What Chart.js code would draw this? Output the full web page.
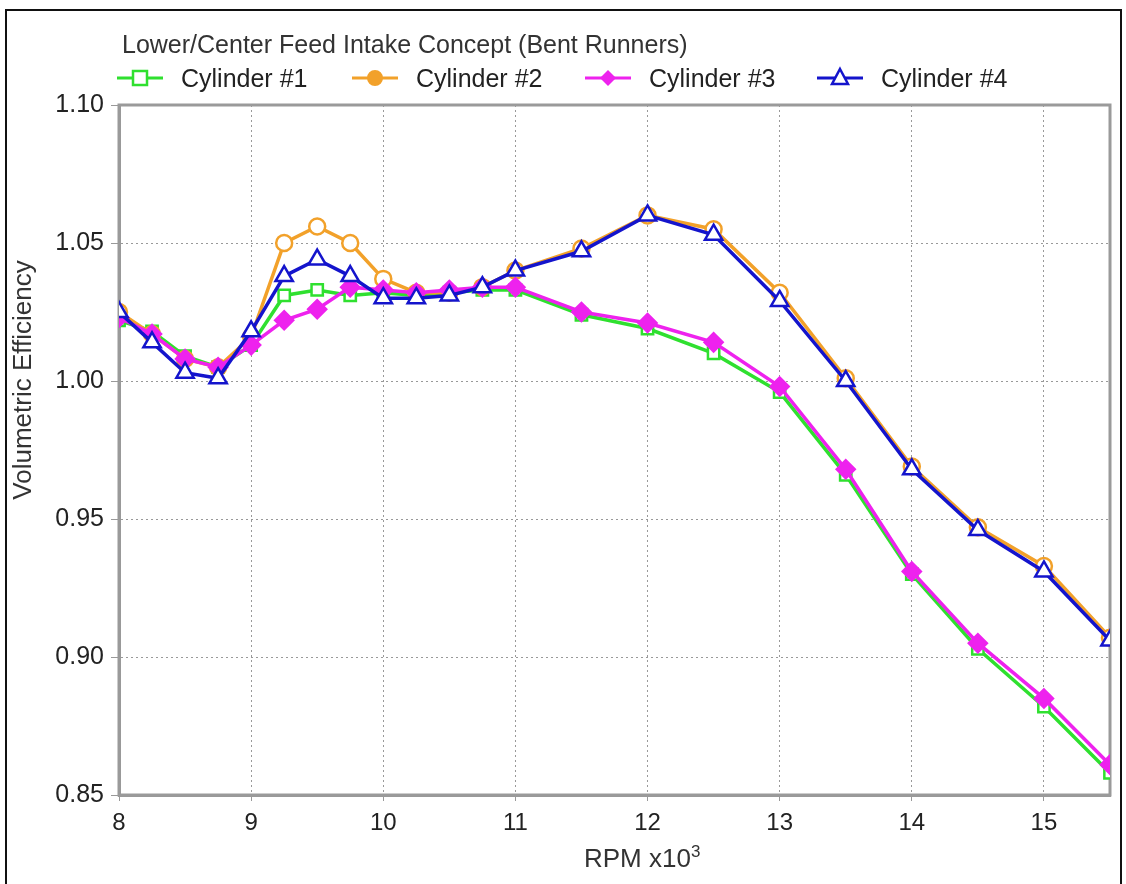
<!DOCTYPE html>
<html>
<head>
<meta charset="utf-8">
<script src="https://cdn.jsdelivr.net/npm/chart.js@4/dist/chart.umd.min.js"></script>
<style>
    body { margin: 0; background: #fff; font-family: "Liberation Sans", Arial, sans-serif; }
    #wrap { position: relative; width: 1126px; height: 884px; overflow: hidden; }
    #frame { position: absolute; left: 5px; top: 9px; width: 1113px; height: 880px; border: 2px solid #111; border-bottom: none; }
    #chart { position: absolute; left: 0; top: 0; }
    .txt { position: absolute; white-space: nowrap; color: #333; }
    #title { left: 122px; top: 30px; font-size: 25px; }
    .leg { position: absolute; top: 63px; height: 30px; display: flex; align-items: center; font-size: 25px; color: #222; }
    .leg svg { margin-right: 18px; }
    #xtitle { left: 584px; top: 842px; font-size: 26px; }
    #ytitle { left: 22px; top: 380px; font-size: 26px; transform: translate(-50%, -50%) rotate(-90deg); }
</style>
</head>
<body>
<div id="wrap">
    <canvas id="chart" width="1126" height="884"></canvas>
    <div id="frame"></div>
    <div class="txt" id="title">Lower/Center Feed Intake Concept (Bent Runners)</div>
    <div id="legend"></div>
    <div class="txt" id="xtitle">RPM x10<sup style="font-size:17px">3</sup></div>
    <div class="txt" id="ytitle">Volumetric Efficiency</div>
</div>
<script>
    // RPM (x1000)
    const rpm = [8, 8.25, 8.5, 8.75, 9, 9.25, 9.5, 9.75, 10, 10.25, 10.5, 10.75, 11, 11.5, 12, 12.5, 13, 13.5, 14, 14.5, 15, 15.5];

    // volumetric efficiency per cylinder
    const cyl1 = [1.022, 1.018, 1.009, 1.005, 1.013, 1.031, 1.033, 1.031, 1.032, 1.031, 1.032, 1.033, 1.033, 1.024, 1.019, 1.010, 0.996, 0.966, 0.930, 0.903, 0.882, 0.858];
    const cyl2 = [1.025, 1.017, 1.008, 1.005, 1.016, 1.050, 1.056, 1.050, 1.037, 1.032, 1.032, 1.034, 1.040, 1.048, 1.060, 1.055, 1.032, 1.001, 0.969, 0.947, 0.933, 0.907];
    const cyl3 = [1.023, 1.017, 1.008, 1.005, 1.013, 1.022, 1.026, 1.034, 1.033, 1.032, 1.033, 1.034, 1.034, 1.025, 1.021, 1.014, 0.998, 0.968, 0.931, 0.905, 0.885, 0.861];
    const cyl4 = [1.025, 1.014, 1.003, 1.001, 1.018, 1.038, 1.044, 1.038, 1.030, 1.030, 1.031, 1.034, 1.040, 1.047, 1.060, 1.053, 1.029, 1.000, 0.968, 0.946, 0.931, 0.906];

    const seriesNames = ["Cylinder #1", "Cylinder #2", "Cylinder #3", "Cylinder #4"];
    const xTicks = [8, 9, 10, 11, 12, 13, 14, 15];
    const yTicks = [0.85, 0.90, 0.95, 1.00, 1.05, 1.10];

    const colors = ["#2fe02f", "#f2a12a", "#ee22ee", "#1414cc"];
    const shapes = ["rect", "circle", "rectRot", "triangle"];
    const fills = ["#ffffff", "#ffffff", "#ee22ee", "#ffffff"];
    const radii = [8, 8, 9, 10];

    function toPoints(vals) {
        return rpm.map((r, i) => ({ x: r, y: vals[i] }));
    }

    const allSeries = [cyl1, cyl2, cyl3, cyl4];
    const datasets = allSeries.map((vals, i) => ({
        label: seriesNames[i],
        data: toPoints(vals),
        borderColor: colors[i],
        backgroundColor: fills[i],
        pointBorderColor: colors[i],
        pointBackgroundColor: fills[i],
        pointStyle: shapes[i],
        pointRadius: radii[i],
        pointBorderWidth: 2.5,
        borderWidth: 3.5,
        tension: 0,
        order: 4 - i
    }));

    // legend (line with marker, like the original plot)
    function legendIcon(i) {
        const c = colors[i];
        let m = "";
        if (shapes[i] === "rect") m = `<rect x="16" y="8" width="14" height="14" fill="#fff" stroke="${c}" stroke-width="2.5"/>`;
        if (shapes[i] === "circle") m = `<circle cx="23" cy="15" r="7" fill="${c}" stroke="${c}" stroke-width="2"/>`;
        if (shapes[i] === "rectRot") m = `<polygon points="23,7 31,15 23,23 15,15" fill="${c}"/>`;
        if (shapes[i] === "triangle") m = `<polygon points="23,6 31,21 15,21" fill="#fff" stroke="${c}" stroke-width="2.5"/>`;
        return `<svg width="46" height="30"><line x1="0" y1="15" x2="46" y2="15" stroke="${c}" stroke-width="3"/>${m}</svg>`;
    }
    const legendLeft = [117, 352, 585, 817];
    seriesNames.forEach((name, i) => {
        const d = document.createElement("div");
        d.className = "leg";
        d.style.left = legendLeft[i] + "px";
        d.innerHTML = legendIcon(i) + `<span>${name}</span>`;
        document.getElementById("legend").appendChild(d);
    });

    // box round the plot area
    const frameBox = {
        id: "frameBox",
        beforeDatasetsDraw(chart) {
            const a = chart.chartArea, ctx = chart.ctx;
            ctx.save();
            ctx.strokeStyle = "#9a9a9a";
            ctx.lineWidth = 3;
            ctx.strokeRect(a.left, a.top, a.right - a.left, a.bottom - a.top);
            ctx.restore();
        }
    };

    const ctx = document.getElementById("chart").getContext("2d");
    new Chart(ctx, {
        type: "line",
        data: { datasets: datasets },
        plugins: [frameBox],
        options: {
            responsive: false,
            animation: false,
            layout: { padding: { top: 105, right: 16, left: 0, bottom: 0 } },
            plugins: { legend: { display: false }, title: { display: false }, tooltip: { enabled: false } },
            scales: {
                x: {
                    type: "linear",
                    min: 8,
                    max: 15.5,
                    afterFit: s => { s.height = 89; },
                    afterBuildTicks: s => { s.ticks = xTicks.map(v => ({ value: v })); },
                    grid: { color: "#999", lineWidth: 1, tickLength: 6 },
                    border: { color: "#999", width: 3, dash: [2, 3] },
                    ticks: { padding: 8, color: "#222", font: { family: "Liberation Sans", size: 24 } }
                },
                y: {
                    min: 0.85,
                    max: 1.10,
                    afterFit: s => { s.width = 119; },
                    afterBuildTicks: s => { s.ticks = yTicks.map(v => ({ value: v })); },
                    grid: { color: "#999", lineWidth: 1, tickLength: 8 },
                    border: { color: "#999", width: 3, dash: [2, 3] },
                    ticks: {
                        padding: 7,
                        color: "#222",
                        font: { family: "Liberation Sans", size: 25 },
                        callback: v => v.toFixed(2)
                    }
                }
            }
        }
    });
</script>
</body>
</html>
